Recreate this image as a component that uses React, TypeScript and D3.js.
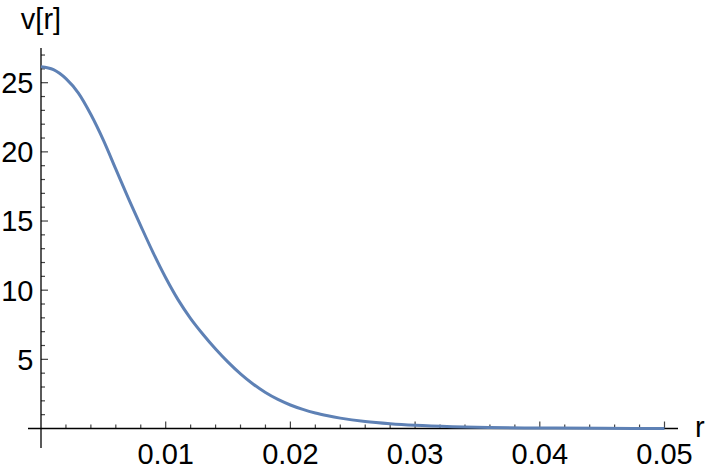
import React from "react";
import * as d3 from "d3";

const rValues = [0, 0.001, 0.002, 0.003, 0.004, 0.005, 0.006, 0.007, 0.008, 0.009, 0.01, 0.011, 0.012, 0.013, 0.014, 0.015, 0.016, 0.017, 0.018, 0.019, 0.02, 0.021, 0.022, 0.023, 0.024, 0.026, 0.028, 0.03, 0.033, 0.036, 0.04, 0.045, 0.05];
const vValues = [26.16, 25.95, 25.3, 24.25, 22.7, 20.85, 18.75, 16.65, 14.65, 12.7, 10.9, 9.3, 7.95, 6.8, 5.75, 4.8, 3.95, 3.22, 2.6, 2.1, 1.7, 1.38, 1.12, 0.92, 0.75, 0.5, 0.34, 0.23, 0.13, 0.075, 0.035, 0.014, 0.006];
const xTickLabels = [0.01, 0.02, 0.03, 0.04, 0.05];
const yTickLabels = [5, 10, 15, 20, 25];
const xLabel = "r";
const yLabel = "v[r]";

const W = 706;
const H = 473;
const FONT = "'Liberation Sans', Arial, sans-serif";
const FS = 29;

export default function App() {
  const x = d3.scaleLinear().domain([0, 0.05]).range([41, 664.5]);
  const y = d3.scaleLinear().domain([0, 25]).range([428.5, 82.7]);
  const data = rValues.map((r, i) => [r, vValues[i]] as [number, number]);
  const line = d3
    .line<[number, number]>()
    .x((d) => x(d[0]))
    .y((d) => y(d[1]))
    .curve(d3.curveMonotoneX);

  const xMinor = d3.range(1, 26).map((i) => i * 0.002);
  const yMinor = d3.range(1, 28);
  const x0 = x(0);
  const y0 = y(0);

  return (
    <div style={{ position: "fixed", left: 0, top: 0 }}>
      <svg width={W} height={H} style={{ display: "block", background: "#fff" }}>
        {xMinor.map((t, i) => {
          const major = (i + 1) % 5 === 0;
          return (
            <line
              key={"xt" + i}
              x1={x(t)}
              x2={x(t)}
              y1={y0}
              y2={y0 - (major ? 7 : 4)}
              stroke="#444"
              strokeWidth={1.2}
            />
          );
        })}
        {yMinor.map((t) => {
          const major = t % 5 === 0;
          return (
            <line
              key={"yt" + t}
              x1={x0}
              x2={x0 + (major ? 7 : 4)}
              y1={y(t)}
              y2={y(t)}
              stroke="#444"
              strokeWidth={1.2}
            />
          );
        })}
        <line x1={28} x2={678} y1={y0} y2={y0} stroke="#000" strokeWidth={1.3} />
        <line x1={x0} x2={x0} y1={48} y2={448} stroke="#000" strokeWidth={1.3} />
        <path d={line(data) || ""} fill="none" stroke="#5E81B5" strokeWidth={3} strokeLinejoin="round" />
        {xTickLabels.map((t) => (
          <text key={"xl" + t} x={x(t)} y={464} textAnchor="middle" fontFamily={FONT} fontSize={FS} fill="#000">
            {String(t)}
          </text>
        ))}
        {yTickLabels.map((t) => (
          <text key={"yl" + t} x={33.5} y={y(t) + 10.4} textAnchor="end" fontFamily={FONT} fontSize={FS} fill="#000">
            {String(t)}
          </text>
        ))}
        <text x={x0} y={29} textAnchor="middle" fontFamily={FONT} fontSize={FS} fill="#000">
          {yLabel}
        </text>
        <text x={695} y={437} textAnchor="start" fontFamily={FONT} fontSize={FS} fill="#000">
          {xLabel}
        </text>
      </svg>
    </div>
  );
}
